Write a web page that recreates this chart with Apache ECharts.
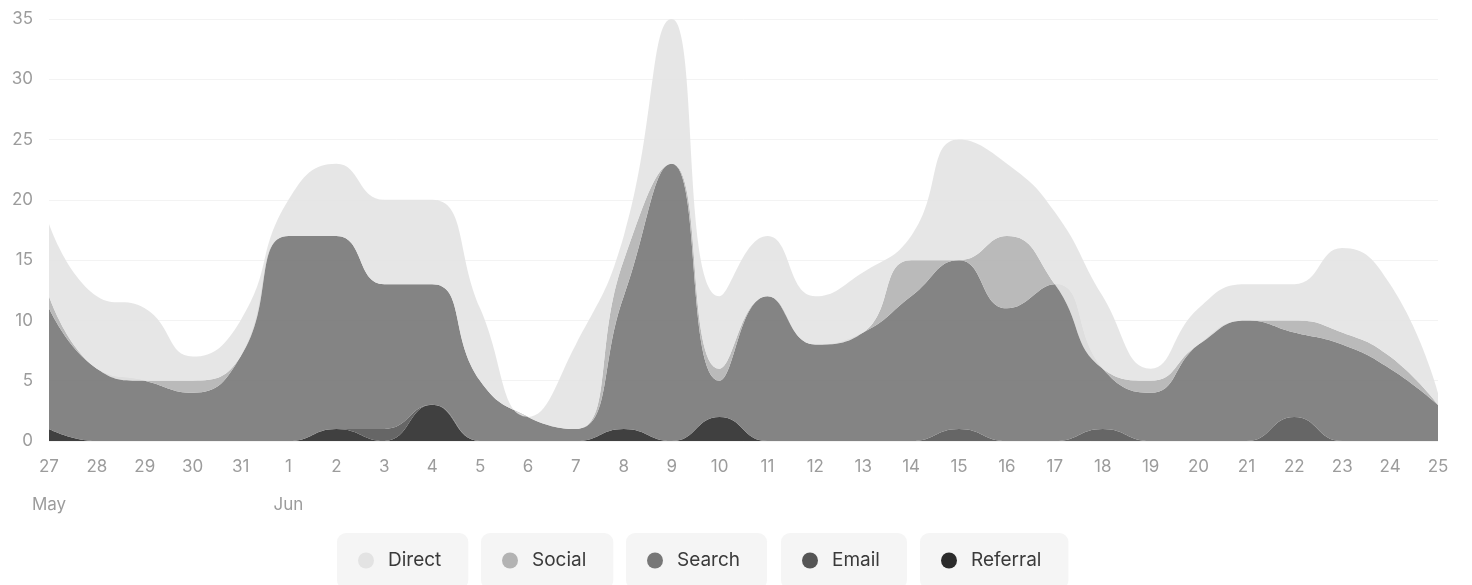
<!DOCTYPE html>
<html>
<head>
<meta charset="utf-8">
<script src="https://cdn.jsdelivr.net/npm/echarts@6/dist/echarts.min.js"></script>
<style>
html,body{margin:0;padding:0;background:#ffffff;}
#chart{width:1472px;height:585px;}
</style>
</head>
<body>
<div id="chart"></div>
<script>
const days = ['27','28','29','30','31','1','2','3','4','5','6','7','8','9','10','11','12','13','14','15','16','17','18','19','20','21','22','23','24','25'];
const monthLabels = ['May','','','','','Jun','','','','','','','','','','','','','','','','','','','','','','','',''];

const referral = [1,0,0,0,0,0,1,0,3,0,0,0,1,0,2,0,0,0,0,0,0,0,0,0,0,0,0,0,0,0];
const email    = [0,0,0,0,0,0,0,1,0,0,0,0,0,0,0,0,0,0,0,1,0,0,1,0,0,0,2,0,0,0];
const search   = [10,6,5,4,7,17,16,12,10,5,2,1,11,23,3,12,8,9,12,14,11,13,5,4,8,10,7,8,6,3];
const social   = [1,0,0,1,0,0,0,0,0,0,0,0,3,0,1,0,0,0,3,0,6,0,0,1,0,0,1,1,1,0];
const direct   = [6,6,6,2,3,3,6,7,7,6,0,7,2,12,6,5,4,5,2,10,6,6,6,1,3,3,3,7,6,1];

const seriesNames = ['Direct','Social','Search','Email','Referral'];
const seriesColors = ['#e3e3e3','#b3b3b3','#777777','#555555','#2b2b2b'];
const seriesData = [direct, social, search, email, referral];
const legendLeft = [337, 481, 626, 781, 920];

const chart = echarts.init(document.getElementById('chart'), null, {renderer:'canvas'});

const series = [];
for (let i = seriesNames.length - 1; i >= 0; i--) {
  series.push({
    name: seriesNames[i],
    type: 'line',
    stack: 'total',
    smooth: true,
    symbol: 'none',
    data: seriesData[i],
    itemStyle: {color: seriesColors[i]},
    lineStyle: {width: 0, color: seriesColors[i], opacity: 0},
    areaStyle: {color: seriesColors[i], opacity: 0.9},
    emphasis: {disabled: true}
  });
}

const legends = seriesNames.map((n, i) => ({
  data: [n],
  left: legendLeft[i],
  top: 533,
  orient: 'horizontal',
  icon: 'circle',
  itemWidth: 16,
  itemHeight: 16,
  backgroundColor: '#f5f5f5',
  borderRadius: 9,
  padding: [18, 27, 19, 21],
  textStyle: {
    color: '#3a3a3a',
    fontSize: 19,
    fontFamily: 'Inter',
    padding: [0, 0, 0, 9]
  }
}));

chart.setOption({
  animation: false,
  backgroundColor: '#ffffff',
  color: seriesColors,
  grid: {left: 49, right: 34, top: 19, bottom: 144, containLabel: false},
  legend: legends,
  xAxis: {
    type: 'category',
    boundaryGap: false,
    data: days,
    axisLine: {show: false},
    axisTick: {show: false},
    splitLine: {show: false},
    axisLabel: {
      interval: 0,
      margin: 16,
      color: '#9c9c9c',
      fontSize: 17,
      fontFamily: 'Inter',
      lineHeight: 19,
      formatter: function (v, idx) {
        return monthLabels[idx] ? v + '\n\n' + monthLabels[idx] : v;
      }
    }
  },
  yAxis: {
    type: 'value',
    min: 0,
    max: 35,
    interval: 5,
    axisLine: {show: false},
    axisTick: {show: false},
    splitLine: {lineStyle: {color: '#f3f3f3', width: 1}},
    axisLabel: {color: '#9c9c9c', fontSize: 17, fontFamily: 'Inter', margin: 16}
  },
  series: series
});
</script>
</body>
</html>
